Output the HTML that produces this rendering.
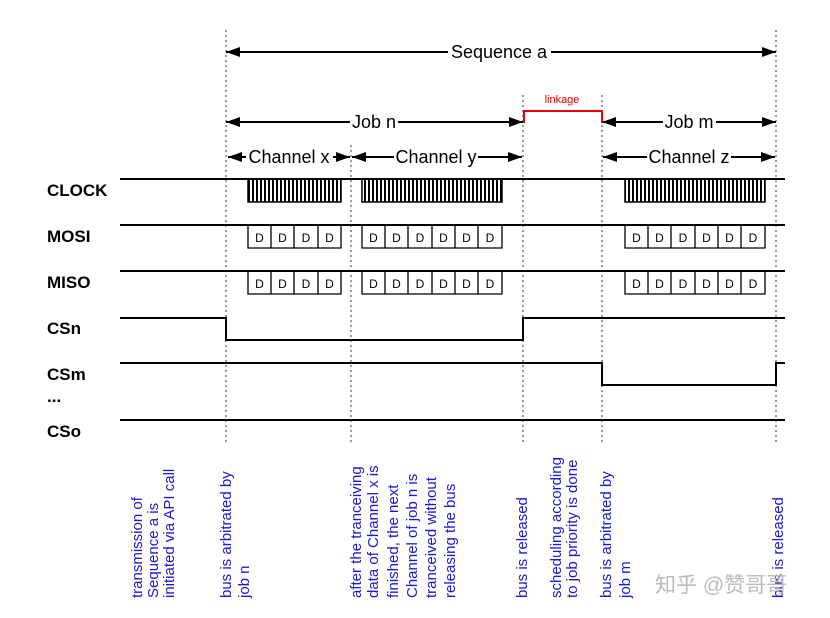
<!DOCTYPE html>
<html><head><meta charset="utf-8"><style>
html,body{margin:0;padding:0;background:#fff;}
svg{display:block;font-family:"Liberation Sans",Arial,sans-serif;}
</style></head><body>
<svg width="830" height="618" viewBox="0 0 830 618">
<defs>
<marker id="a" markerWidth="14" markerHeight="10" refX="14" refY="5" orient="auto" markerUnits="userSpaceOnUse"><path d="M0,0 L14,5 L0,10 Z" fill="#000"/></marker>
<marker id="b" markerWidth="14" markerHeight="10" refX="0" refY="5" orient="auto" markerUnits="userSpaceOnUse"><path d="M14,0 L0,5 L14,10 Z" fill="#000"/></marker>
<pattern id="clk" width="4" height="23" patternUnits="userSpaceOnUse"><rect x="0" y="0" width="2" height="23" fill="#000"/></pattern>
</defs>
<g stroke="#555" stroke-width="1.2" stroke-dasharray="2,3">
<line x1="226" y1="30" x2="226" y2="442"/>
<line x1="351" y1="145" x2="351" y2="442"/>
<line x1="523" y1="95" x2="523" y2="442"/>
<line x1="602" y1="95" x2="602" y2="442"/>
<line x1="776" y1="30" x2="776" y2="442"/>
</g>
<g stroke="#000" stroke-width="2" fill="none">
<line x1="226" y1="52" x2="448" y2="52" marker-start="url(#b)"/>
<line x1="551" y1="52" x2="776" y2="52" marker-end="url(#a)"/>
<line x1="226" y1="122" x2="350" y2="122" marker-start="url(#b)"/>
<line x1="398" y1="122" x2="523" y2="122" marker-end="url(#a)"/>
<line x1="602" y1="122" x2="663" y2="122" marker-start="url(#b)"/>
<line x1="716" y1="122" x2="776" y2="122" marker-end="url(#a)"/>
<line x1="228" y1="157" x2="246" y2="157" marker-start="url(#b)"/>
<line x1="333" y1="157" x2="350" y2="157" marker-end="url(#a)"/>
<line x1="352" y1="157" x2="394" y2="157" marker-start="url(#b)"/>
<line x1="478" y1="157" x2="522" y2="157" marker-end="url(#a)"/>
<line x1="603" y1="157" x2="647" y2="157" marker-start="url(#b)"/>
<line x1="731" y1="157" x2="775" y2="157" marker-end="url(#a)"/>
<line x1="120" y1="179" x2="785" y2="179"/>
<line x1="120" y1="225" x2="785" y2="225"/>
<line x1="120" y1="271" x2="785" y2="271"/>
<polyline points="120,318 226,318 226,340 523,340 523,318 785,318"/>
<polyline points="120,363 602,363 602,385 776,385 776,363 785,363"/>
<line x1="120" y1="420" x2="785" y2="420"/>
</g>
<polyline points="524,123 524,111 602,111 602,123" stroke="#e00" stroke-width="2" fill="none"/>
<text x="562" y="103" font-size="11" fill="#e00" text-anchor="middle">linkage</text>
<g font-size="18" text-anchor="middle" fill="#000">
<text x="499" y="58">Sequence a</text>
<text x="374" y="128">Job n</text>
<text x="689" y="128">Job m</text>
<text x="289" y="163">Channel x</text>
<text x="436" y="163">Channel y</text>
<text x="689" y="163">Channel z</text>
</g>
<g fill="url(#clk)" stroke="#000" stroke-width="1.5">
<rect x="248" y="179" width="93" height="23"/>
<rect x="362" y="179" width="140" height="23"/>
<rect x="625" y="179" width="140" height="23"/>
</g>
<g fill="none" stroke="#000" stroke-width="1.3">
<path d="M248,225 V248 H341 V225 M271,225 V248 M294,225 V248 M318,225 V248"/>
<path d="M362,225 V248 H502 V225 M385,225 V248 M408,225 V248 M432,225 V248 M455,225 V248 M478,225 V248"/>
<path d="M625,225 V248 H765 V225 M648,225 V248 M671,225 V248 M695,225 V248 M718,225 V248 M741,225 V248"/>
<path d="M248,271 V294 H341 V271 M271,271 V294 M294,271 V294 M318,271 V294"/>
<path d="M362,271 V294 H502 V271 M385,271 V294 M408,271 V294 M432,271 V294 M455,271 V294 M478,271 V294"/>
<path d="M625,271 V294 H765 V271 M648,271 V294 M671,271 V294 M695,271 V294 M718,271 V294 M741,271 V294"/>
</g>
<g font-size="12" text-anchor="middle" fill="#000">
<text x="259.5" y="242">D</text><text x="282.5" y="242">D</text><text x="306" y="242">D</text><text x="329.5" y="242">D</text>
<text x="373.5" y="242">D</text><text x="396.5" y="242">D</text><text x="420" y="242">D</text><text x="443.5" y="242">D</text><text x="466.5" y="242">D</text><text x="490" y="242">D</text>
<text x="636.5" y="242">D</text><text x="659.5" y="242">D</text><text x="683" y="242">D</text><text x="706.5" y="242">D</text><text x="729.5" y="242">D</text><text x="753" y="242">D</text>
<text x="259.5" y="288">D</text><text x="282.5" y="288">D</text><text x="306" y="288">D</text><text x="329.5" y="288">D</text>
<text x="373.5" y="288">D</text><text x="396.5" y="288">D</text><text x="420" y="288">D</text><text x="443.5" y="288">D</text><text x="466.5" y="288">D</text><text x="490" y="288">D</text>
<text x="636.5" y="288">D</text><text x="659.5" y="288">D</text><text x="683" y="288">D</text><text x="706.5" y="288">D</text><text x="729.5" y="288">D</text><text x="753" y="288">D</text>
</g>
<g font-size="17" font-weight="bold" fill="#000">
<text x="47" y="196">CLOCK</text>
<text x="47" y="242">MOSI</text>
<text x="47" y="288">MISO</text>
<text x="47" y="334">CSn</text>
<text x="47" y="380">CSm</text>
<text x="47" y="402">...</text>
<text x="47" y="437">CSo</text>
</g>
<g font-size="15" fill="#1a1ad0">
<text transform="translate(142,598) rotate(-90)">transmission of</text>
<text transform="translate(158,598) rotate(-90)">Sequence a is</text>
<text transform="translate(174,598) rotate(-90)">initiated via API call</text>
<text transform="translate(231,598) rotate(-90)">bus is arbitrated by</text>
<text transform="translate(249,598) rotate(-90)">job n</text>
<text transform="translate(361,598) rotate(-90)">after the tranceiving</text>
<text transform="translate(378,598) rotate(-90)">data of Channel x is</text>
<text transform="translate(398,598) rotate(-90)">finished,  the next</text>
<text transform="translate(417,598) rotate(-90)">Channel of job n is</text>
<text transform="translate(436,598) rotate(-90)">tranceived without</text>
<text transform="translate(455,598) rotate(-90)">releasing the bus</text>
<text transform="translate(527,598) rotate(-90)">bus is released</text>
<text transform="translate(561,598) rotate(-90)">scheduling according</text>
<text transform="translate(577,598) rotate(-90)">to job priority is done</text>
<text transform="translate(611,598) rotate(-90)">bus is arbitrated by</text>
<text transform="translate(630,598) rotate(-90)">job m</text>
<text transform="translate(783,598) rotate(-90)">bus is released</text>
</g>
<text x="655" y="592" font-size="21" fill="#bbb" font-family="'Liberation Sans','Noto Sans CJK SC',sans-serif">知乎 @赞哥哥</text>
</svg>
</body></html>
